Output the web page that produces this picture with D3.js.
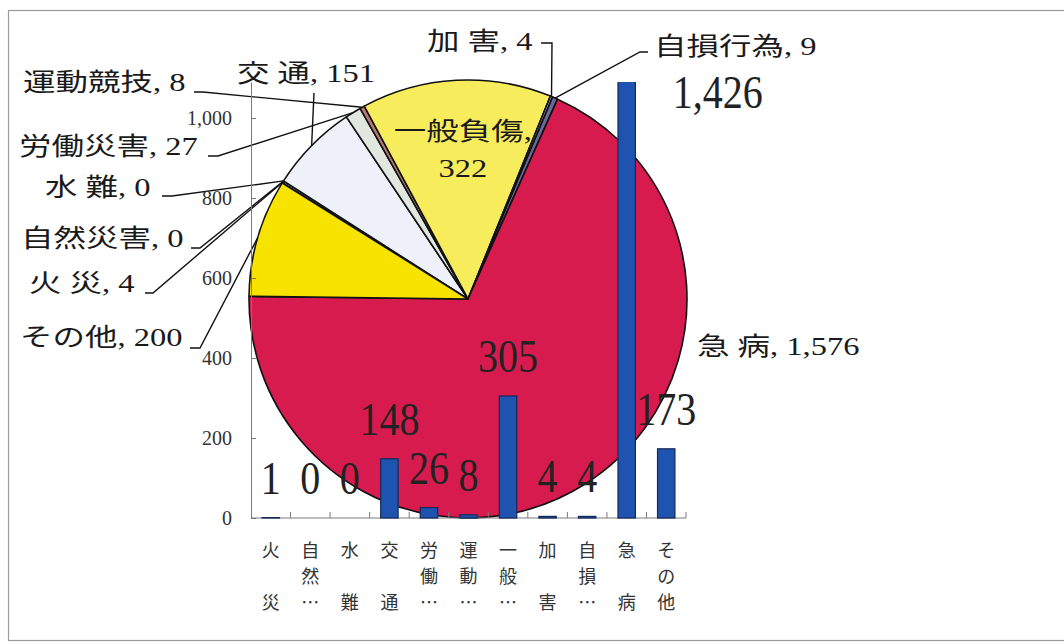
<!DOCTYPE html>
<html>
<head>
<meta charset="utf-8">
<script src="https://cdn.jsdelivr.net/npm/d3@7"></script>
<style>
  body { margin: 0; background: #fff; }
  svg { display: block; }
</style>
</head>
<body>
<svg class="espacio" width="1064" height="644"></svg>
<script>
// datos
var categorias = ["火災", "自然災害", "水難", "交通", "労働災害", "運動競技", "一般負傷", "加害", "自損行為", "急病", "その他"];
var nombresPie = ["火 災", "自然災害", "水 難", "交 通", "労働災害", "運動競技", "一般負傷", "加 害", "自損行為", "急 病", "その他"];
var nombresEje = ["火 災", "自然…", "水 難", "交 通", "労働…", "運動…", "一般…", "加 害", "自損…", "急 病", "その他"];
var casosPie = [4, 0, 0, 151, 27, 8, 322, 4, 9, 1576, 200];
var casosBar = [1, 0, 0, 148, 26, 8, 305, 4, 4, 1426, 173];
var yTicks = [0, 200, 400, 600, 800, 1000];
var yMax = 1090;

var coloresPie = ["#8c8c8c", "#ffffff", "#ffffff", "#eef1fa", "#dfe7df", "#b87878",
  "#f6ec5c", "#a8a8d0", "#6a6a9a", "#d81b4f", "#f7e200"];

var svg = d3.select(".espacio");
var fmt = d3.format(",");
var fuenteTxt = "'Liberation Serif', 'Noto Sans CJK JP', serif";

// marco
svg.append("rect")
  .attr("x", 8.5).attr("y", 10.5)
  .attr("width", 1080).attr("height", 630)
  .attr("fill", "none").attr("stroke", "#9a9a9a").attr("stroke-width", 1.2);

// ---- pastel ----
var cx = 468, cy = 299, radio = 219;
var inicio = 302 * Math.PI / 180;

var pie = d3.pie().sort(null).value(function(d) { return d; })
  .startAngle(inicio).endAngle(inicio + 2 * Math.PI);
var arcos = pie(casosPie);
var arco = d3.arc().innerRadius(0).outerRadius(radio);
var arcoBorde = d3.arc().innerRadius(radio).outerRadius(radio);

var gPie = svg.append("g").attr("transform", "translate(" + cx + "," + cy + ")");
gPie.selectAll(".rebanada")
  .data(arcos)
  .enter()
  .append("path")
  .attr("class", "rebanada")
  .attr("d", arco)
  .attr("fill", function(d, i) { return coloresPie[i]; })
  .attr("stroke", "#111")
  .attr("stroke-width", 1.6)
  .attr("stroke-linejoin", "round");

// posiciones de las etiquetas del pastel
var posEtiquetas = [
  { x: 29, y: 292, codo: [[145, 293], [153, 293]] },
  { x: 21, y: 247, codo: [[191, 248], [200, 248]] },
  { x: 45, y: 196, codo: [[162, 196], [172, 196]] },
  { x: 237, y: 82, codo: [[314, 93]] },
  { x: 19, y: 155, codo: [[208, 156], [218, 156]] },
  { x: 23, y: 91, codo: [[194, 92], [203, 92]] },
  null,
  { x: 427, y: 50, codo: [[541, 43], [552, 43]] },
  { x: 654, y: 55, codo: [[648, 52], [640, 52]] },
  { x: 697, y: 355, codo: null },
  { x: 20, y: 346, codo: [[190, 348], [200, 348]] }
];

var gEtq = svg.append("g").attr("font-family", fuenteTxt).attr("font-size", 25).attr("fill", "#1a1a1a");

posEtiquetas.forEach(function(p, i) {
  if (!p) return;
  if (p.codo) {
    var c = arcoBorde.centroid(arcos[i]);
    var puntos = p.codo.concat([[cx + c[0], cy + c[1]]]);
    svg.append("path")
      .attr("d", d3.line()(puntos))
      .attr("fill", "none")
      .attr("stroke", "#111")
      .attr("stroke-width", 1.4);
  }
  gEtq.append("text")
    .attr("transform", "translate(" + p.x + "," + p.y + ") scale(1.3,1)")
    .text(nombresPie[i] + ", " + fmt(casosPie[i]));
});

// etiqueta dentro de la rebanada 一般負傷
var cInt = d3.arc().innerRadius(0).outerRadius(radio * 1.05).centroid(arcos[6]);
var tInt = gEtq.append("text")
  .attr("transform", "translate(" + (cx + cInt[0] + 1) + "," + (cy - 159) + ") scale(1.3,1)")
  .attr("text-anchor", "middle");
tInt.append("tspan").attr("x", 0).attr("y", 0).text(nombresPie[6] + ",");
tInt.append("tspan").attr("x", 0).attr("y", 37).text(fmt(casosPie[6]));

// ---- barras ----
var x0 = 251, x1 = 686, yBase = 518;
var x = d3.scaleBand().domain(categorias).range([x0, x1]).padding(0);
var y = d3.scaleLinear().domain([0, yMax]).range([yBase, yBase - yMax * 0.4]);
var anchoBarra = x.bandwidth() * 0.44;

svg.append("clipPath").attr("id", "recorte")
  .append("rect")
  .attr("x", x0).attr("y", y(yMax))
  .attr("width", x1 - x0).attr("height", yBase - y(yMax) + 2);

var ejeY = svg.append("g")
  .attr("transform", "translate(" + x0 + ",0)")
  .call(d3.axisLeft(y).tickValues(yTicks).tickFormat(fmt)
    .tickSize(-5).tickSizeOuter(0).tickPadding(19));
ejeY.select(".domain").attr("stroke", "#7a7a7a");
ejeY.selectAll(".tick line").attr("stroke", "#7a7a7a");
ejeY.selectAll(".tick text")
  .attr("font-family", fuenteTxt).attr("font-size", 20).attr("fill", "#333");

// eje x
var gX = svg.append("g");
gX.append("line")
  .attr("x1", x0).attr("x2", x1).attr("y1", yBase).attr("y2", yBase)
  .attr("stroke", "#7a7a7a");
gX.selectAll(".marca")
  .data(categorias)
  .enter()
  .append("line")
  .attr("class", "marca")
  .attr("x1", function(d) { return x(d) + x.bandwidth(); })
  .attr("x2", function(d) { return x(d) + x.bandwidth(); })
  .attr("y1", yBase).attr("y2", yBase - 6)
  .attr("stroke", "#7a7a7a");

var etqX = gX.selectAll(".cat")
  .data(categorias)
  .enter()
  .append("text")
  .attr("class", "cat")
  .attr("font-family", "'Noto Sans CJK JP', sans-serif")
  .attr("font-size", 18)
  .attr("fill", "#333")
  .attr("text-anchor", "middle");
etqX.each(function(d, i) {
  var letras = Array.from(nombresEje[i]);
  var t = d3.select(this);
  letras.forEach(function(ch, j) {
    t.append("tspan")
      .attr("x", x(d) + x.bandwidth() / 2)
      .attr("y", yBase + 39 + j * 26)
      .text(ch);
  });
});

svg.append("g")
  .attr("clip-path", "url(#recorte)")
  .selectAll(".barra")
  .data(casosBar)
  .enter()
  .append("rect")
  .attr("class", "barra")
  .attr("x", function(d, i) { return x(categorias[i]) + (x.bandwidth() - anchoBarra) / 2; })
  .attr("y", function(d) { return y(d); })
  .attr("width", anchoBarra)
  .attr("height", function(d) { return yBase - y(d); })
  .attr("fill", "#1e54b0")
  .attr("stroke", "#13295a")
  .attr("stroke-width", 1.2);

// valores de las barras
svg.append("g")
  .selectAll(".valor")
  .data(casosBar)
  .enter()
  .append("text")
  .attr("class", "valor")
  .attr("font-family", "'Liberation Serif', serif")
  .attr("font-size", 46)
  .attr("fill", "#222")
  .attr("text-anchor", function(d) { return d > yMax ? "start" : "middle"; })
  .attr("transform", function(d, i) {
    var cxB = x(categorias[i]) + x.bandwidth() / 2;
    if (d > yMax) return "translate(" + (cxB + 46) + "," + (y(yMax) + 26) + ") scale(0.87,1)";
    return "translate(" + cxB + "," + (y(d) - 24) + ") scale(0.87,1)";
  })
  .text(function(d) { return fmt(d); });
</script>
</body>
</html>
